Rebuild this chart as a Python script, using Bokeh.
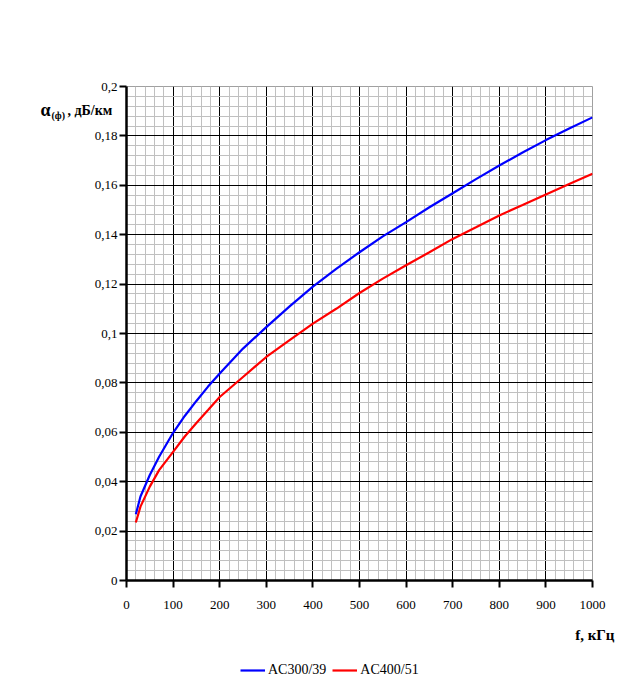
from bokeh.plotting import figure
from bokeh.layouts import column
from bokeh.models import (FixedTicker, CustomJSTickFormatter, Label, Legend, LegendItem,
                          Range1d, ColumnDataSource, Title)
from bokeh.embed import file_html
from bokeh.resources import INLINE

# ---- data ----
freq = [20, 30, 50, 70, 100, 125, 150, 175, 200, 250, 300, 350, 400, 450, 500, 550, 600,
        650, 700, 750, 800, 850, 900, 950, 1000]
ac300 = [0.0268, 0.034, 0.0427, 0.0501, 0.0598, 0.0666, 0.0727, 0.0785, 0.0838, 0.0939,
         0.1026, 0.111, 0.119, 0.1262, 0.1329, 0.1393, 0.1451, 0.1511, 0.1568, 0.1625,
         0.168, 0.1733, 0.1783, 0.183, 0.1875]
ac400 = [0.0235, 0.0299, 0.038, 0.0447, 0.0521, 0.0583, 0.0638, 0.069, 0.0743, 0.0824,
         0.0905, 0.0973, 0.104, 0.110, 0.1164, 0.1222, 0.1276, 0.1329, 0.1383, 0.143,
         0.1478, 0.152, 0.1563, 0.1605, 0.1647]
series_names = ["AC300/39", "AC400/51"]
x_ticks = [0, 100, 200, 300, 400, 500, 600, 700, 800, 900, 1000]
y_ticks = [0, 0.02, 0.04, 0.06, 0.08, 0.1, 0.12, 0.14, 0.16, 0.18, 0.2]
x_minor = [i * 20 for i in range(51)]
y_minor = [round(i * 0.004, 3) for i in range(51)]

SERIF = "Liberation Serif"
W = 616

p = figure(width=W, height=655, output_backend="svg", toolbar_location=None,
           x_range=Range1d(0, 1000), y_range=Range1d(0, 0.2),
           min_border_left=126, min_border_right=24, min_border_top=86,
           min_border_bottom=74)
p.outline_line_color = "#a0a0a0"
p.outline_line_width = 1
p.background_fill_color = "white"
p.border_fill_color = "white"

# grids
p.xgrid.ticker = FixedTicker(ticks=x_ticks[1:-1], minor_ticks=x_minor)
p.ygrid.ticker = FixedTicker(ticks=y_ticks[1:-1], minor_ticks=y_minor)
for g in (p.xgrid, p.ygrid):
    g.grid_line_color = "black"
    g.grid_line_width = 1
    g.grid_line_alpha = 1
    g.minor_grid_line_color = "#c0c0c0"
    g.minor_grid_line_width = 1

# axes
p.xaxis.ticker = FixedTicker(ticks=x_ticks)
p.yaxis.ticker = FixedTicker(ticks=y_ticks)
p.yaxis.formatter = CustomJSTickFormatter(code="""
    let s = tick.toFixed(2);
    s = s.replace(/0+$/, '').replace(/\\.$/, '');
    return s.replace('.', ',');
""")
for ax in (p.xaxis, p.yaxis):
    ax.axis_line_color = "black"
    ax.axis_line_width = 2.5
    ax.major_tick_line_color = "black"
    ax.major_tick_line_width = 2
    ax.major_tick_out = 7
    ax.major_tick_in = 0
    ax.minor_tick_out = 0
    ax.minor_tick_in = 0
    ax.major_label_text_font = SERIF
    ax.major_label_text_font_size = "13px"
    ax.major_label_text_color = "black"
p.yaxis.major_label_standoff = 2
p.xaxis.major_label_standoff = 13

# curves
src = ColumnDataSource(dict(f=freq, a=ac300, b=ac400))
p.line("f", "a", source=src, line_color="#0000ff", line_width=2.2)
p.line("f", "b", source=src, line_color="#ff0000", line_width=2.2)

# y axis title pieces, placed in the top border panel (screen units from that panel)
def lab(x, y, text, size):
    p.add_layout(Label(x=x, y=y, x_units="screen", y_units="screen", text=text,
                       text_font=SERIF, text_font_size=size, text_font_style="bold",
                       text_baseline="middle", text_align="left",
                       text_color="black"), "above")

lab(-86, -23, "\u03b1", "18px")
lab(-75, -49, "(\u0444)", "10px")
lab(-59, -55, ", \u0434\u0411/\u043a\u043c", "14px")

# x axis title in the bottom panel
p.add_layout(Title(text="f, \u043a\u0413\u0446", align="right", offset=-22, standoff=26,
                   text_font=SERIF, text_font_size="15px", text_font_style="bold",
                   text_color="black"), "below")

# legend strip under the chart (its frame is aligned with the chart's frame)
q = figure(width=W, height=28, output_backend="svg", toolbar_location=None,
           x_range=Range1d(-10, -5), y_range=Range1d(-10, -5),
           min_border=0, outline_line_color=None)
q.axis.visible = False
q.grid.visible = False
k1 = q.line("f", "a", source=src, line_color="#0000ff", line_width=2.2)
k2 = q.line("f", "b", source=src, line_color="#ff0000", line_width=2.2)
legend = Legend(items=[LegendItem(label=series_names[0], renderers=[k1]),
                       LegendItem(label=series_names[1], renderers=[k2])],
                location=(114, 3), orientation="horizontal",
                border_line_color=None, background_fill_alpha=0,
                padding=0, margin=0, spacing=6, label_standoff=3,
                glyph_width=25, glyph_height=20,
                label_text_font=SERIF, label_text_font_size="14px",
                label_text_color="black")
q.add_layout(legend, "center")

page = column(p, q, spacing=0)
open("out.html", "w").write(file_html(page, INLINE))
